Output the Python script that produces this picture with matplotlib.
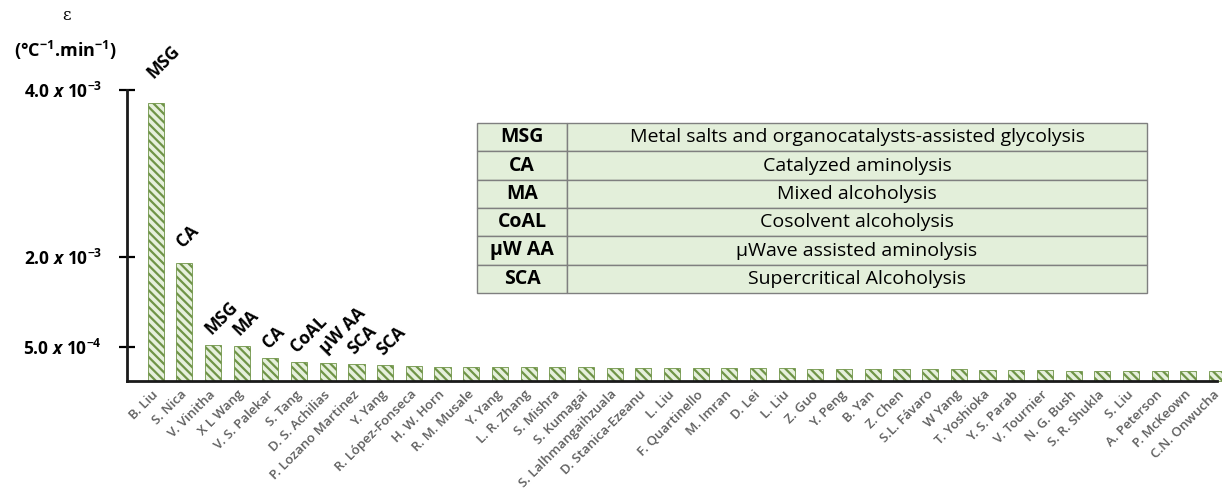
import numpy as np
import matplotlib
matplotlib.use("Agg")
import matplotlib.pyplot as plt
from matplotlib.transforms import ScaledTranslation

plt.rcParams['font.family'] = ['Open Sans', 'DejaVu Sans']
plt.rcParams['mathtext.fontset'] = 'custom'
plt.rcParams['mathtext.rm'] = 'Open Sans'
plt.rcParams['mathtext.bf'] = 'Open Sans:bold'
plt.rcParams['mathtext.it'] = 'Open Sans:italic:bold'
plt.rcParams['hatch.linewidth'] = 1.6

# ---------------- data ----------------
authors = ["B. Liu", "S. Nica", "V. Vinitha", "X L Wang", "V. S. Palekar", "S. Tang",
           "D. S. Achilias", "P. Lozano Martinez", "Y. Yang", "R. López-Fonseca",
           "H. W. Horn", "R. M. Musale", "Y. Yang", "L. R. Zhang", "S. Mishra",
           "S. Kumagai", "S. Lalhmangaihzuala", "D. Stanica-Ezeanu", "L. Liu",
           "F. Quartinello", "M. Imran", "D. Lei", "L. Liu", "Z. Guo", "Y. Peng",
           "B. Yan", "Z. Chen", "S.L. Fávaro", "W Yang", "T. Yoshioka", "Y. S. Parab",
           "V. Tournier", "N. G. Bush", "S. R. Shukla", "S. Liu", "A. Peterson",
           "P. McKeown", "C.N. Onwucha"]
epsilon = [3.85e-3, 1.90e-3, 5.3e-4, 5.2e-4, 3.4e-4, 2.8e-4, 2.7e-4, 2.5e-4, 2.4e-4,
           2.2e-4, 2.1e-4, 2.1e-4, 2.1e-4, 2.0e-4, 2.0e-4, 2.0e-4, 1.95e-4, 1.95e-4,
           1.9e-4, 1.9e-4, 1.9e-4, 1.85e-4, 1.85e-4, 1.8e-4, 1.8e-4, 1.75e-4, 1.75e-4,
           1.7e-4, 1.7e-4, 1.65e-4, 1.6e-4, 1.55e-4, 1.5e-4, 1.5e-4, 1.45e-4, 1.45e-4,
           1.4e-4, 1.4e-4]
bar_tags = ["MSG", "CA", "MSG", "MA", "CA", "CoAL", "µW AA", "SCA", "SCA"]
ytick_values = [5.0e-4, 2.0e-3, 4.0e-3]
ytick_labels = [r"5.0 $\mathit{x}$ 10$^{\mathbf{-4}}$",
                r"2.0 $\mathit{x}$ 10$^{\mathbf{-3}}$",
                r"4.0 $\mathit{x}$ 10$^{\mathbf{-3}}$"]
abbrev = ["MSG", "CA", "MA", "CoAL", "µW AA", "SCA"]
meaning = ["Metal salts and organocatalysts-assisted glycolysis",
           "Catalyzed aminolysis", "Mixed alcoholysis", "Cosolvent alcoholysis",
           "µWave assisted aminolysis", "Supercritical Alcoholysis"]

# ------------- non-linear (broken) value axis -------------
brk_v = np.array([0.0, 5.0e-4, 2.0e-3, 4.0e-3])
brk_p = np.array([0.0, 34.0, 124.0, 291.0])

def fwd(v):
    v = np.asarray(v, dtype=float)
    out = np.interp(v, brk_v, brk_p)
    s_lo = (brk_p[1] - brk_p[0]) / (brk_v[1] - brk_v[0])
    s_hi = (brk_p[-1] - brk_p[-2]) / (brk_v[-1] - brk_v[-2])
    out = np.where(v < brk_v[0], brk_p[0] + (v - brk_v[0]) * s_lo, out)
    out = np.where(v > brk_v[-1], brk_p[-1] + (v - brk_v[-1]) * s_hi, out)
    return out

def inv(p):
    p = np.asarray(p, dtype=float)
    out = np.interp(p, brk_p, brk_v)
    s_lo = (brk_v[1] - brk_v[0]) / (brk_p[1] - brk_p[0])
    s_hi = (brk_v[-1] - brk_v[-2]) / (brk_p[-1] - brk_p[-2])
    out = np.where(p < brk_p[0], brk_v[0] + (p - brk_p[0]) * s_lo, out)
    out = np.where(p > brk_p[-1], brk_v[-1] + (p - brk_p[-1]) * s_hi, out)
    return out

W, H = 1222, 490
fig = plt.figure(figsize=(W / 100, H / 100), dpi=100)
ax = fig.add_axes([127 / W, 1 - 381 / H, (1217 - 127) / W, (381 - 90) / H])
ax.set_yscale('function', functions=(fwd, inv))

x = np.arange(len(authors))
ax.bar(x, epsilon, width=0.56, color='#e6f0dc', edgecolor='#6f9447',
       linewidth=0.6, hatch='\\\\\\\\', clip_on=False, zorder=2)

for i, tag in enumerate(bar_tags):
    gap = 5 + 4000 * epsilon[i]
    ax.annotate(tag, xy=(x[i], epsilon[i]), xytext=(1, gap), textcoords='offset pixels',
                rotation=45, rotation_mode='anchor', ha='left', va='bottom',
                fontsize=12.5, fontweight='bold', color='black', annotation_clip=False)

ax.set_xlim(-1.0, len(authors) - 1.0)
ax.set_ylim(0, 4.0e-3)
ax.set_yticks(ytick_values)
ax.set_yticklabels(ytick_labels, fontsize=12.5, fontweight='bold')
ax.tick_params(axis='y', direction='inout', length=12, width=1.6, pad=12)
ax.yaxis.set_minor_locator(matplotlib.ticker.NullLocator())
ax.set_xticks(x)
ax.set_xticklabels(authors, rotation=45, ha='right', rotation_mode='anchor',
                   fontsize=9.5, fontweight='semibold', color='#5f5f5f')
ax.tick_params(axis='x', length=0, pad=5)
shift = ScaledTranslation(-3 / 72, 0, fig.dpi_scale_trans)
for lbl in ax.get_xticklabels():
    lbl.set_transform(lbl.get_transform() + shift)
for s in ['top', 'right']:
    ax.spines[s].set_visible(False)
for s in ['left', 'bottom']:
    ax.spines[s].set_linewidth(2.0)
    ax.spines[s].set_color('#1a1a1a')

# axis title
fig.text(67 / W, 1 - 16 / H, "ε", ha='center', va='center', fontsize=12,
         family=['DejaVu Serif'])
fig.text(65 / W, 1 - 50 / H, r"(°C$^{\mathbf{-1}}$.min$^{\mathbf{-1}}$)",
         ha='center', va='center', fontsize=13, fontweight='bold')

# legend table
tax = fig.add_axes([477 / W, 1 - 293 / H, (1147 - 477) / W, (293 - 123) / H])
tax.axis('off')
cells = [[a, m] for a, m in zip(abbrev, meaning)]
tbl = tax.table(cellText=cells, bbox=[0, 0, 1, 1], colWidths=[90, 580],
                cellLoc='center')
tbl.auto_set_font_size(False)
for (r, c), cell in tbl.get_celld().items():
    cell.set_facecolor('#e3efda')
    cell.set_edgecolor('#7f7f7f')
    cell.set_linewidth(1.0)
    cell.get_text().set_fontsize(14)
    if c == 0:
        cell.get_text().set_fontweight('bold')

fig.savefig("out.png", dpi=100)
